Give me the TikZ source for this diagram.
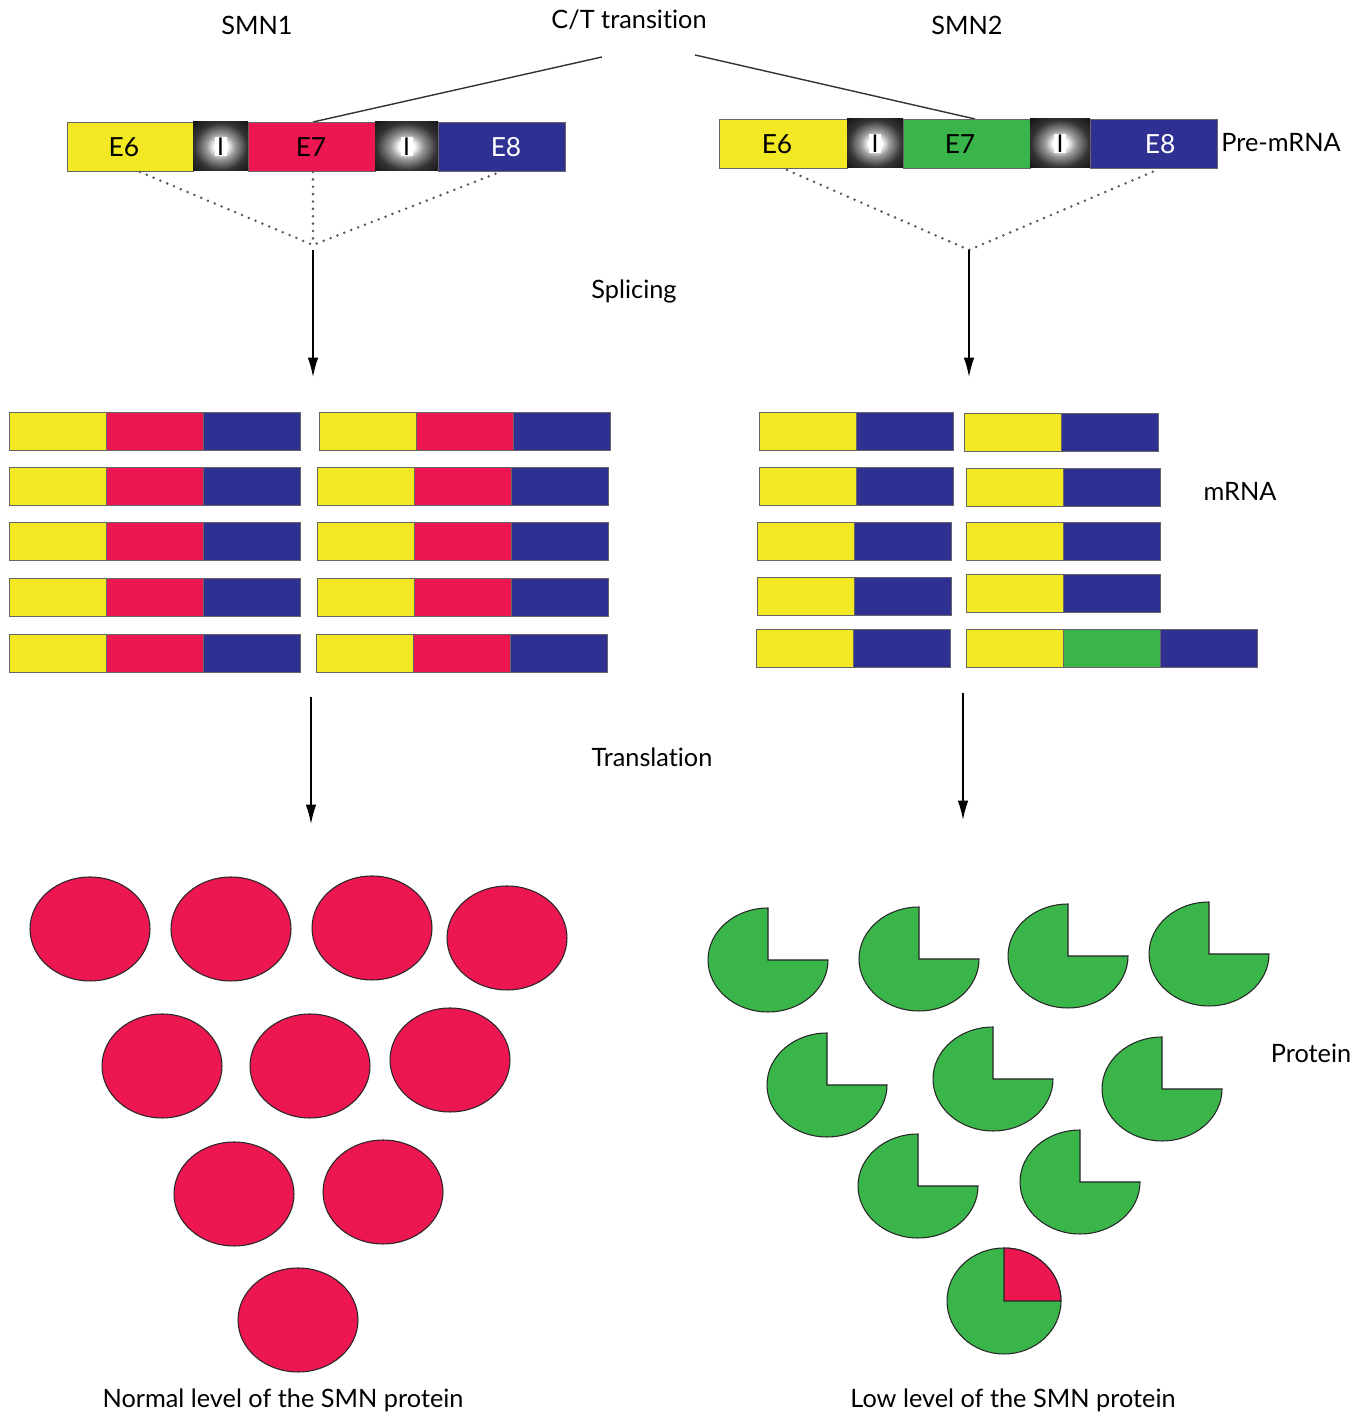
\documentclass[tikz,border=0pt]{standalone}
\usepackage{fontspec}
\setmainfont{Lato}[Ligatures=NoCommon]
\usetikzlibrary{arrows.meta}
\definecolor{cyel}{HTML}{F2E824}
\definecolor{cred}{HTML}{EC1651}
\definecolor{cblu}{HTML}{2E3192}
\definecolor{cgrn}{HTML}{39B54A}
\pgfdeclareradialshading{intronsh}{\pgfpoint{0bp}{0bp}}{color(0bp)=(white); color(6bp)=(white); color(13bp)=(gray!80); color(24bp)=(black!80); color(36bp)=(black!92); color(50bp)=(black)}
\newcommand{\exbox}[5]{\draw[segline, fill=#5] (#1,#3) rectangle (#2,#4);}
\newcommand{\intronbox}[5]{\shade[shading=intronsh] (#1,#3) rectangle (#2,#4);
  \node[ibox] (#5) at ({(#1+#2)/2},{(#3+#4)/2}) {I};}
\newcommand{\mseg}[3]{\draw[segline, fill=#3] ({#1},{1415-(#2)}) rectangle ++(97.3,-38.5);}
\begin{document}
\begin{tikzpicture}[x=0.02cm,y=0.02cm,
  lbl/.style={font=\fontsize{14.4}{17}\selectfont, inner sep=0pt},
  elbl/.style={font=\fontsize{15}{17}\selectfont, inner sep=0pt},
  segline/.style={draw=gray!80!black, line width=0.5pt},
  ibox/.style={fill=white, inner sep=0pt, minimum width=0.24cm, minimum height=0.38cm, font=\fontsize{14}{16}\selectfont},
  prot/.style={draw=black!85, line width=0.6pt},
  dots/.style={gray!70!black, line width=1.6pt, line cap=round, dash pattern=on 0pt off 4.2pt},
  ctline/.style={black!80, line width=0.8pt},
  arr/.style={black, line width=0.8pt, -{Latex[length=11pt, width=6pt]}}]
\useasboundingbox (0,0) rectangle (1366,1415);

% top labels
\node[lbl] (smn1) at (257,1390) {SMN1};
\node[lbl] (ct) at (629,1395) {C/T transition};
\node[lbl] (smn2) at (967,1390) {SMN2};
\node[lbl] (pre) at (1281,1272) {Pre-mRNA};
\node[lbl] (spl) at (634,1123) {Splicing};
\node[lbl] (mrna) at (1240,924) {mRNA};
\node[lbl] (trl) at (652,658) {Translation};
\node[lbl] (prot) at (1311,362) {Protein};
\node[lbl] (normal) at (283,15) {Normal level of the SMN protein};
\node[lbl] (low) at (1013,15) {Low level of the SMN protein};

% C/T lines
\coordinate (ctl) at (602,1358);
\coordinate (ctr) at (695,1360);
\coordinate (e7a) at (313,1293);
\coordinate (e7b) at (975,1296);
\draw[ctline] (ctl) -- (e7a);
\draw[ctline] (ctr) -- (e7b);

% pre-mRNA SMN1
\exbox{67}{193}{1244}{1293}{cyel}
\intronbox{193}{248}{1244}{1293}{i1a}
\exbox{248}{375}{1244}{1293}{cred}
\intronbox{375}{438}{1244}{1293}{i2a}
\exbox{438}{565}{1244}{1293}{cblu}
\node[elbl] (e6l) at (124,1268) {E6};
\node[elbl] (e7l) at (311,1268) {E7};
\node[elbl, text=white] (e8l) at (506,1268) {E8};

% pre-mRNA SMN2
\exbox{719}{847}{1247}{1296}{cyel}
\intronbox{847}{903}{1247}{1296}{i1b}
\exbox{903}{1030}{1247}{1296}{cgrn}
\intronbox{1030}{1090}{1247}{1296}{i2b}
\exbox{1090}{1217}{1247}{1296}{cblu}
\node[elbl] (e6r) at (777,1271) {E6};
\node[elbl] (e7r) at (960,1271) {E7};
\node[elbl, text=white] (e8r) at (1160,1271) {E8};

% splicing dotted lines
\coordinate (apl) at (313,1170);
\coordinate (apr) at (969,1165);
\coordinate (d1) at (140,1243);
\coordinate (d2) at (313,1243);
\coordinate (d3) at (500,1243);
\coordinate (d4) at (787,1245);
\coordinate (d5) at (1157,1245);
\draw[dots] (d1) -- (apl) -- (d3);
\draw[dots] (d2) -- (apl);
\draw[dots] (d4) -- (apr) -- (d5);

% splicing arrows
\coordinate (s1a) at (313,1165);
\coordinate (s1b) at (313,1038);
\coordinate (s2a) at (969,1165);
\coordinate (s2b) at (969,1038);
\draw[arr] (s1a) -- (s1b);
\draw[arr] (s2a) -- (s2b);

% mRNA SMN1
\foreach \x/\y in {9/412, 9/467, 9/522, 9/578, 9/634, 319/412, 317/467, 317/522, 317/578, 316/634}{
  \mseg{\x}{\y}{cyel}\mseg{\x+97.3}{\y}{cred}\mseg{\x+194.6}{\y}{cblu}}

% mRNA SMN2
\foreach \x/\y in {759/412, 759/467, 757/522, 757/577, 756/629, 964/413, 966/468, 966/522, 966/574}{
  \mseg{\x}{\y}{cyel}\mseg{\x+97.3}{\y}{cblu}}
\mseg{966}{629}{cyel}\mseg{1063.3}{629}{cgrn}\mseg{1160.6}{629}{cblu}

% translation arrows
\coordinate (t1a) at (311,718);
\coordinate (t1b) at (311,591);
\coordinate (t2a) at (963,722);
\coordinate (t2b) at (963,595);
\draw[arr] (t1a) -- (t1b);
\draw[arr] (t2a) -- (t2b);

% normal protein
\foreach \x/\y in {90/929, 231/929, 372/928, 507/938, 162/1066, 310/1066, 450/1060, 234/1194, 383/1192, 298/1320}{
  \draw[prot, fill=cred] (\x,{1415-\y}) ellipse[x radius=1.2cm, y radius=1.04cm];}

% truncated protein
\foreach \x/\y in {768/960, 919/959, 1068/956, 1209/954, 827/1085, 993/1079, 1162/1089, 918/1186, 1080/1182}{
  \draw[prot, fill=cgrn] (\x,{1415-\y}) -- ++(0,1.04cm)
    arc[start angle=90, end angle=360, x radius=1.2cm, y radius=1.04cm] -- cycle;}

% full-length protein
\draw[prot, fill=cgrn] (1004,114) ellipse[x radius=1.14cm, y radius=1.06cm];
\draw[prot, fill=cred] (1004,114) -- ++(0,1.06cm)
  arc[start angle=90, end angle=0, x radius=1.14cm, y radius=1.06cm] -- cycle;
\end{tikzpicture}
\end{document}
